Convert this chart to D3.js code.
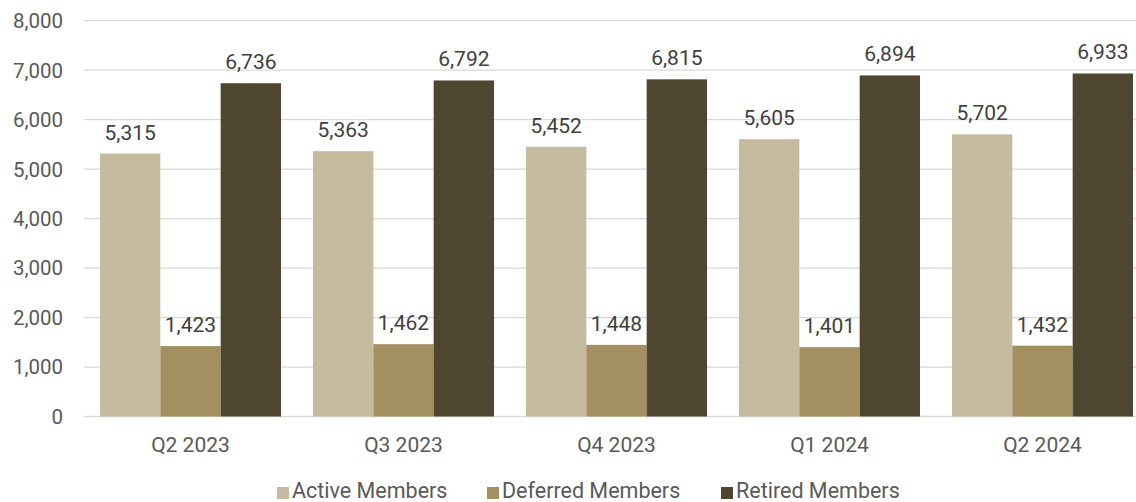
<!DOCTYPE html>
<html><head><meta charset="utf-8">
<script src="https://cdn.jsdelivr.net/npm/d3@7"></script>
<style>body{margin:0;background:#fff}svg{display:block}text{font-family:Roboto,"Noto Sans",sans-serif}</style>
</head><body>
<svg id="chart" width="1136" height="502"></svg>
<script>
const categories = ["Q2 2023","Q3 2023","Q4 2023","Q1 2024","Q2 2024"];
const seriesNames = ["Active Members","Deferred Members","Retired Members"];
const activeMembers = [5315,5363,5452,5605,5702];
const deferredMembers = [1423,1462,1448,1401,1432];
const retiredMembers = [6736,6792,6815,6894,6933];
const yTicks = [0,1000,2000,3000,4000,5000,6000,7000,8000];
const colors = ["#c5bc9f","#a38f5f","#4f4630"];

(function(){
const series = [activeMembers, deferredMembers, retiredMembers];
const svg = d3.select("#chart");
const pLeft = 84, pRight = 1149, pTop = 20.7, pBottom = 416.5;
const y = d3.scaleLinear().domain([0,8000]).range([pBottom, pTop]);
const x0 = d3.scaleBand().domain(categories).range([pLeft, pRight]).paddingInner(0.15).paddingOuter(0.075);
const x1 = d3.scaleBand().domain(seriesNames).range([0, x0.bandwidth()]);
const fmt = d3.format(",");

svg.append("g").selectAll("line").data(yTicks).join("line")
  .attr("x1", pLeft).attr("x2", 1136).attr("y1", d=>y(d)).attr("y2", d=>y(d))
  .attr("stroke", "#d9d9d9").attr("stroke-width", 1.3);
svg.append("g").selectAll("text").data(yTicks).join("text")
  .attr("x", 63).attr("y", d=>y(d)).attr("dy","0.36em").attr("text-anchor","end")
  .attr("font-size", 20.5).attr("fill", "#595959").text(d=>fmt(d));

const g = svg.append("g").selectAll("g").data(categories).join("g")
  .attr("transform", d=>`translate(${x0(d)},0)`);
const cells = (c,i)=>seriesNames.map((s,j)=>({s,j,v:series[j][i]}));
g.selectAll("rect").data(cells).join("rect")
  .attr("x", d=>x1(d.s)).attr("width", x1.bandwidth())
  .attr("y", d=>y(d.v)).attr("height", d=>pBottom - y(d.v))
  .attr("fill", d=>colors[d.j]);
g.selectAll("text").data(cells).join("text")
  .attr("x", d=>x1(d.s)+x1.bandwidth()/2).attr("y", d=>y(d.v)-14)
  .attr("text-anchor","middle").attr("font-size", 21).attr("fill","#404040")
  .text(d=>fmt(d.v));

svg.append("g").selectAll("text").data(categories).join("text")
  .attr("x", d=>x0(d)+x0.bandwidth()/2).attr("y", 452)
  .attr("text-anchor","middle").attr("font-size", 21).attr("fill","#595959").text(d=>d);

const legX = [277, 487, 721];
const leg = svg.append("g").selectAll("g").data(seriesNames).join("g")
  .attr("transform", (d,i)=>`translate(${legX[i]},0)`);
leg.append("rect").attr("x",0).attr("y",487).attr("width",12).attr("height",12).attr("fill",(d,i)=>colors[i]);
leg.append("text").attr("x",15).attr("y",498).attr("font-size",21.5).attr("fill","#595959").text(d=>d);
})();
</script>
</body></html>
